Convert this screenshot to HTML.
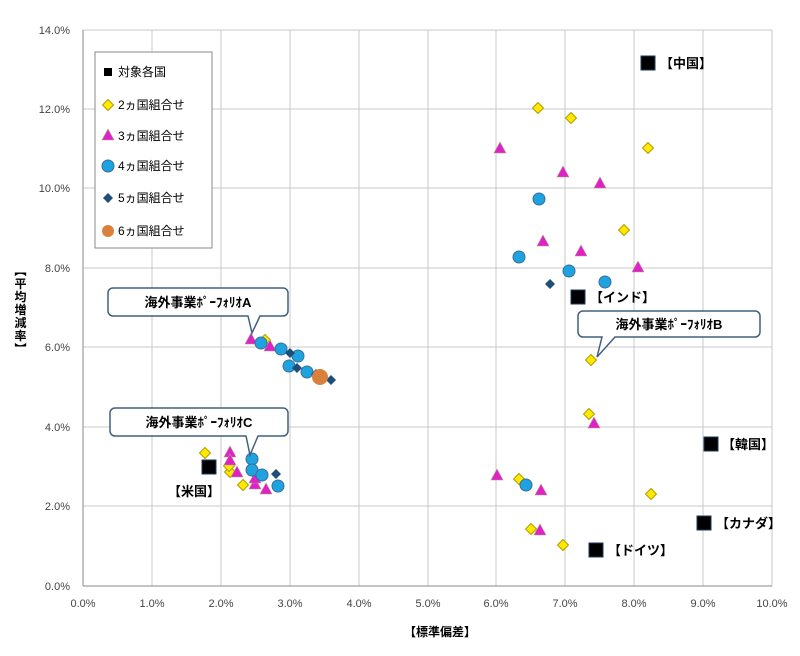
<!DOCTYPE html><html><head><meta charset="utf-8"><style>body{margin:0;background:#fff}svg text{font-family:"Liberation Sans","Noto Sans CJK JP",sans-serif}</style></head><body>
<svg width="800" height="651" xmlns="http://www.w3.org/2000/svg">
<defs>
<g id="sq"><rect x="-7" y="-7" width="14" height="14" fill="#000" stroke="#1f3a5a" stroke-width="1"/></g>
<g id="yd"><polygon points="0,-5.5 5.5,0 0,5.5 -5.5,0" fill="#ffea00" stroke="#b59a00" stroke-width="1"/></g>
<g id="mt"><polygon points="0,-6 6,5 -6,5" fill="#e020c8" stroke="#b0a080" stroke-width="0.6"/></g>
<g id="bc"><circle r="6" fill="#1ea3e0" stroke="#3a6f9a" stroke-width="1"/></g>
<g id="dd"><polygon points="0,-5 5,0 0,5 -5,0" fill="#1f4e79"/></g>
</defs>
<g stroke="#c8c8c8" stroke-width="1">
<line x1="83" y1="30" x2="772" y2="30"/><line x1="83" y1="109" x2="772" y2="109"/><line x1="83" y1="188" x2="772" y2="188"/><line x1="83" y1="268" x2="772" y2="268"/><line x1="83" y1="347" x2="772" y2="347"/><line x1="83" y1="427" x2="772" y2="427"/><line x1="83" y1="506" x2="772" y2="506"/>
<line x1="152" y1="30" x2="152" y2="586"/><line x1="221" y1="30" x2="221" y2="586"/><line x1="290" y1="30" x2="290" y2="586"/><line x1="359" y1="30" x2="359" y2="586"/><line x1="428" y1="30" x2="428" y2="586"/><line x1="496" y1="30" x2="496" y2="586"/><line x1="565" y1="30" x2="565" y2="586"/><line x1="634" y1="30" x2="634" y2="586"/><line x1="703" y1="30" x2="703" y2="586"/><line x1="772" y1="30" x2="772" y2="586"/>
</g>
<line x1="83" y1="586" x2="772" y2="586" stroke="#888"/><line x1="83" y1="30" x2="83" y2="586" stroke="#888"/>
<g font-size="11" fill="#444" text-anchor="end">
<text x="70" y="34">14.0%</text><text x="70" y="113">12.0%</text><text x="70" y="192">10.0%</text><text x="70" y="272">8.0%</text><text x="70" y="351">6.0%</text><text x="70" y="431">4.0%</text><text x="70" y="510">2.0%</text><text x="70" y="590">0.0%</text>
</g>
<g font-size="11" fill="#444" text-anchor="middle">
<text x="83" y="607">0.0%</text><text x="152" y="607">1.0%</text><text x="221" y="607">2.0%</text><text x="290" y="607">3.0%</text><text x="359" y="607">4.0%</text><text x="428" y="607">5.0%</text><text x="496" y="607">6.0%</text><text x="565" y="607">7.0%</text><text x="634" y="607">8.0%</text><text x="703" y="607">9.0%</text><text x="772" y="607">10.0%</text>
</g>
<text x="440" y="636" font-size="12" font-weight="bold" text-anchor="middle">【標準偏差】</text>
<text x="20" y="310" font-size="12" font-weight="bold" text-anchor="middle" writing-mode="tb" style="writing-mode:vertical-rl;text-orientation:upright" letter-spacing="1">【平均増減率】</text>
<rect x="95" y="52" width="117" height="196" fill="#fff" stroke="#888"/>
<g font-size="12" fill="#000">
<rect x="104" y="68" width="8" height="8" fill="#000"/><text x="118" y="76">対象各国</text>
<use href="#yd" transform="translate(108,105)"/><text x="118" y="109">2ヵ国組合せ</text>
<use href="#mt" transform="translate(108,135)"/><text x="118" y="140">3ヵ国組合せ</text>
<use href="#bc" transform="translate(108,166)"/><text x="118" y="170">4ヵ国組合せ</text>
<use href="#dd" transform="translate(108,198)"/><text x="118" y="202">5ヵ国組合せ</text>
<circle cx="108" cy="231" r="6" fill="#d9813c"/><text x="118" y="235">6ヵ国組合せ</text>
</g>
<g>
<use href="#yd" x="538" y="108"/><use href="#yd" x="571" y="118"/><use href="#yd" x="648" y="148"/><use href="#yd" x="624" y="230"/><use href="#yd" x="591" y="360"/><use href="#yd" x="589" y="414"/><use href="#yd" x="651" y="494"/><use href="#yd" x="519" y="479"/><use href="#yd" x="531" y="529"/><use href="#yd" x="563" y="545"/><use href="#yd" x="205" y="453"/><use href="#yd" x="230" y="472"/><use href="#yd" x="243" y="485"/><use href="#yd" x="265" y="340"/><use href="#yd" x="229" y="466"/>
</g>
<g>
<use href="#mt" x="500" y="148"/><use href="#mt" x="563" y="172"/><use href="#mt" x="600" y="183"/><use href="#mt" x="543" y="241"/><use href="#mt" x="581" y="251"/><use href="#mt" x="638" y="267"/><use href="#mt" x="594" y="423"/><use href="#mt" x="497" y="475"/><use href="#mt" x="541" y="490"/><use href="#mt" x="540" y="530"/><use href="#mt" x="251" y="339"/><use href="#mt" x="270" y="346"/><use href="#mt" x="230" y="452"/><use href="#mt" x="230" y="460"/><use href="#mt" x="237" y="472"/><use href="#mt" x="255" y="484"/><use href="#mt" x="266" y="489"/><use href="#mt" x="255" y="478"/>
</g>
<g>
<use href="#bc" x="539" y="199"/><use href="#bc" x="519" y="257"/><use href="#bc" x="569" y="271"/><use href="#bc" x="605" y="282"/><use href="#bc" x="526" y="485"/><use href="#bc" x="261" y="343"/><use href="#bc" x="281" y="349"/><use href="#bc" x="298" y="356"/><use href="#bc" x="289" y="366"/><use href="#bc" x="307" y="372"/><use href="#bc" x="252" y="459"/><use href="#bc" x="252" y="470"/><use href="#bc" x="262" y="475"/><use href="#bc" x="278" y="486"/>
</g>
<g>
<use href="#dd" x="550" y="284"/><use href="#dd" x="290" y="353"/><use href="#dd" x="297" y="368"/><use href="#dd" x="331" y="380"/><use href="#dd" x="276" y="474"/><use href="#dd" x="316" y="374"/>
</g>
<circle cx="320" cy="377" r="8" fill="#d9813c"/>
<g font-size="13" font-weight="bold">
<use href="#sq" x="648" y="63"/><text x="660" y="68">【中国】</text>
<use href="#sq" x="578" y="297"/><text x="590" y="302">【インド】</text>
<use href="#sq" x="711" y="444"/><text x="722" y="449">【韓国】</text>
<use href="#sq" x="704" y="523"/><text x="716" y="528">【カナダ】</text>
<use href="#sq" x="596" y="550"/><text x="608" y="555">【ドイツ】</text>
<use href="#sq" x="209" y="467"/><text x="168" y="496">【米国】</text>
</g>
<g fill="#fff" stroke="#41607f" stroke-width="1.5">
<path d="M113,288 H283 a5,5 0 0 1 5,5 V311 a5,5 0 0 1 -5,5 H260 L252,333 L248,316 H113 a5,5 0 0 1 -5,-5 V293 a5,5 0 0 1 5,-5 Z"/>
<path d="M115,408 H283 a5,5 0 0 1 5,5 V431 a5,5 0 0 1 -5,5 H258 L250,455 L246,436 H115 a5,5 0 0 1 -5,-5 V413 a5,5 0 0 1 5,-5 Z"/>
<path d="M583,311 H755 a5,5 0 0 1 5,5 V332 a5,5 0 0 1 -5,5 H615 L597,357 L602,337 H583 a5,5 0 0 1 -5,-5 V316 a5,5 0 0 1 5,-5 Z"/>
</g>
<g font-size="13" font-weight="bold" text-anchor="middle">
<text x="198" y="307">海外事業ﾎﾟｰﾌｫﾘｵA</text>
<text x="199" y="427">海外事業ﾎﾟｰﾌｫﾘｵC</text>
<text x="669" y="329">海外事業ﾎﾟｰﾌｫﾘｵB</text>
</g>
</svg>
</body></html>
